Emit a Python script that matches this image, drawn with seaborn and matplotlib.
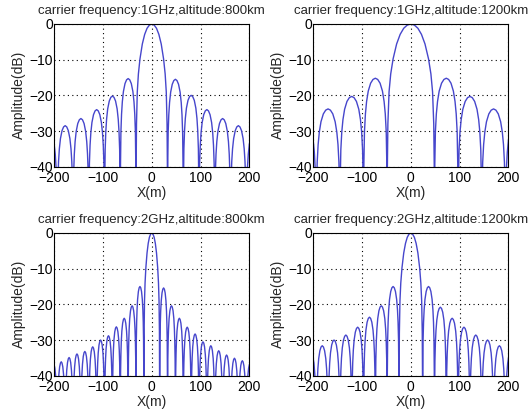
import numpy as np
import pandas as pd
import matplotlib
matplotlib.use("Agg")
import matplotlib.pyplot as plt
import seaborn as sns

# panel titles
titles = ["carrier frequency:1GHz,altitude:800km",
          "carrier frequency:1GHz,altitude:1200km",
          "carrier frequency:2GHz,altitude:800km",
          "carrier frequency:2GHz,altitude:1200km"]

# null positions (m) right of the main lobe (mirrored on the left)
nulls_1g_800 = [32.3, 64.6, 96.9, 129.2, 161.5, 193.8, 226.1]
nulls_1g_1200 = [48.5, 97.0, 145.5, 194.0, 242.5]
nulls_2g_800 = [16.2, 32.3, 48.5, 64.6, 80.8, 96.9, 113.1, 129.2, 145.4, 161.5, 177.7, 193.8, 210.0]
nulls_2g_1200 = [24.2, 48.5, 72.7, 96.9, 121.1, 145.4, 169.6, 193.8, 218.0]

# sidelobe peak levels (dB), from the main lobe outwards
right_1g_800 = [-15.5, -20.0, -24.0, -26.5, -28.5, -30.0]
left_1g_800 = [-15.3, -20.2, -24.0, -26.5, -28.5, -30.0]
right_1g_1200 = [-15.2, -20.3, -23.8, -26.0]
left_1g_1200 = [-15.2, -20.3, -23.8, -26.0]
right_2g_800 = [-15.4, -20.4, -23.9, -26.4, -28.3, -30.5, -31.6, -33.0, -34.2, -35.1, -35.8, -36.5]
left_2g_800 = [-15.0, -20.4, -23.9, -26.3, -28.8, -30.0, -31.9, -33.2, -33.9, -34.9, -36.1, -36.6]
right_2g_1200 = [-15.0, -20.8, -23.9, -26.4, -28.6, -30.0, -31.6, -33.0]
left_2g_1200 = [-15.0, -20.4, -23.6, -26.4, -28.6, -30.0, -31.6, -33.0]

# shape of one lobe: fraction across the lobe, dB below its peak
main_frac = [-1.0, -0.97, -0.92, -0.85, -0.75, -0.6, -0.45, -0.3, -0.15, 0.0,
             0.15, 0.3, 0.45, 0.6, 0.75, 0.85, 0.92, 0.97, 1.0]
main_db = [-45.0, -28.0, -19.0, -14.0, -9.8, -5.6, -2.9, -1.2, -0.3, 0.0,
           -0.3, -1.2, -2.9, -5.6, -9.8, -14.0, -19.0, -28.0, -45.0]
side_frac = [0.0, 0.015, 0.04, 0.08, 0.13, 0.2, 0.3, 0.4, 0.5,
             0.6, 0.7, 0.8, 0.87, 0.92, 0.96, 0.985, 1.0]
side_db = [-45.0, -24.0, -15.0, -10.0, -6.5, -3.6, -1.4, -0.35, 0.0,
           -0.35, -1.4, -3.6, -6.5, -10.0, -15.0, -24.0, -45.0]


def build_curve(nulls, right, left):
    xs, ys = [], []
    # left sidelobes, outermost first
    for i in reversed(range(len(left))):
        a, b = nulls[i], nulls[i + 1]
        for f, d in zip(reversed(side_frac), reversed(side_db)):
            xs.append(-(a + f * (b - a)))
            ys.append(left[i] + d)
    for f, d in zip(main_frac, main_db):
        xs.append(f * nulls[0])
        ys.append(d)
    for i in range(len(right)):
        a, b = nulls[i], nulls[i + 1]
        for f, d in zip(side_frac, side_db):
            xs.append(a + f * (b - a))
            ys.append(right[i] + d)
    return pd.DataFrame({"x": xs, "y": ys})


curves = [build_curve(nulls_1g_800, right_1g_800, left_1g_800),
          build_curve(nulls_1g_1200, right_1g_1200, left_1g_1200),
          build_curve(nulls_2g_800, right_2g_800, left_2g_800),
          build_curve(nulls_2g_1200, right_2g_1200, left_2g_1200)]

sns.set_style("white")
plt.rcParams['font.family'] = ['Liberation Sans', 'DejaVu Sans']

fig = plt.figure(figsize=(5.28, 4.18), dpi=100)
positions = [[0.1028, 0.6012, 0.3693, 0.3414],
             [0.5934, 0.6012, 0.3693, 0.3414],
             [0.1028, 0.1012, 0.3693, 0.3414],
             [0.5934, 0.1012, 0.3693, 0.3414]]

for pos, df, title in zip(positions, curves, titles):
    ax = fig.add_axes(pos)
    sns.lineplot(data=df, x="x", y="y", sort=False, estimator=None,
                 color="#4646cc", lw=1.0, ax=ax)
    ax.set_xlim(-200, 200)
    ax.set_ylim(-40, 0)
    ax.set_xticks([-200, -100, 0, 100, 200])
    ax.set_yticks([-40, -30, -20, -10, 0])
    ax.grid(True, color="black", linestyle=(0, (1, 3)), lw=0.8)
    for s in ax.spines.values():
        s.set_color("black")
        s.set_linewidth(0.8)
    ax.tick_params(direction="in", length=3, labelsize=10, colors="black")
    ax.tick_params(axis="x", pad=3)
    ax.tick_params(axis="y", pad=1)
    ax.set_xlabel("X(m)", fontsize=10, labelpad=1)
    ax.set_ylabel("Amplitude(dB)", fontsize=10, labelpad=2)
    ax.set_title(title, fontsize=9.5, pad=7)

fig.savefig("out.png", dpi=100)
